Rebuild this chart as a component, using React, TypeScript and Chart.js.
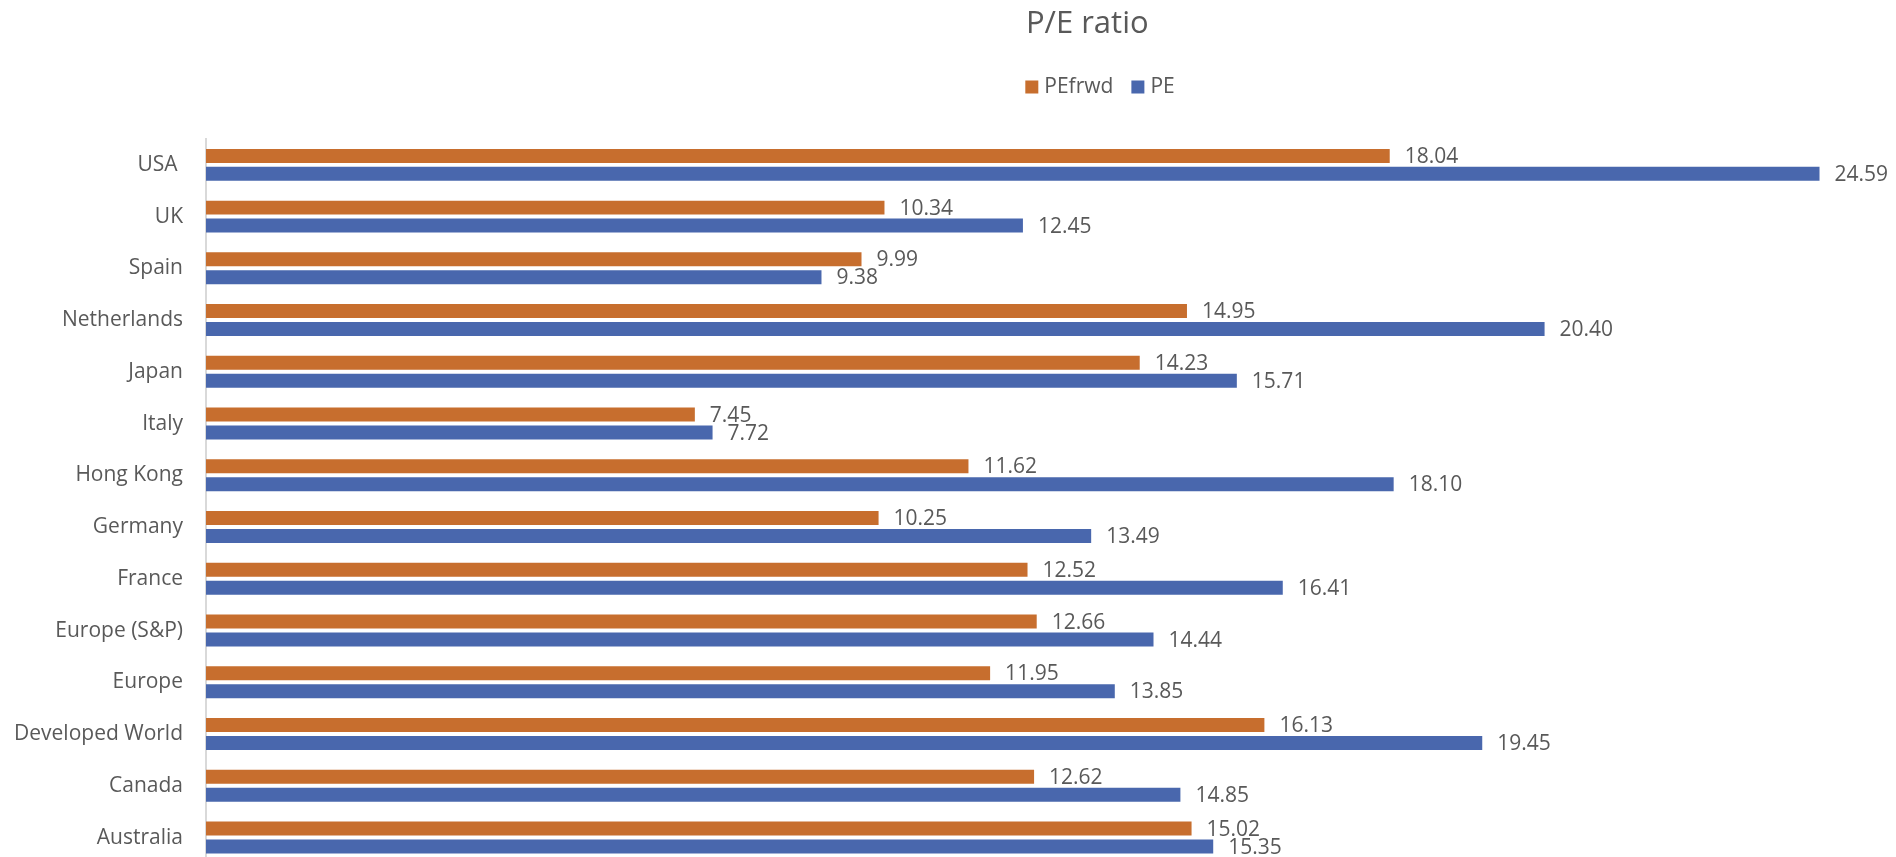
import React, { useEffect, useRef } from "react";
import { Chart, registerables } from "chart.js";

Chart.register(...registerables);

// Markets, listed top to bottom
const markets = [
  "USA ",
  "UK",
  "Spain",
  "Netherlands",
  "Japan",
  "Italy",
  "Hong Kong",
  "Germany",
  "France",
  "Europe (S&P)",
  "Europe",
  "Developed World",
  "Canada",
  "Australia",
];

// Forward price/earnings
const peForward = [18.04, 10.34, 9.99, 14.95, 14.23, 7.45, 11.62, 10.25, 12.52, 12.66, 11.95, 16.13, 12.62, 15.02];

// Trailing price/earnings
const peTrailing = [24.59, 12.45, 9.38, 20.4, 15.71, 7.72, 18.1, 13.49, 16.41, 14.44, 13.85, 19.45, 14.85, 15.35];

const seriesNames = ["PEfrwd", "PE"];
const seriesColors = ["#C76E2E", "#4967AD"];

const FONT = "'Open Sans', 'Noto Sans', sans-serif";
const TEXT = "#595959";
const CANVAS_W = 2200;
const CANVAS_H = 899;
const LEGEND_Y = 87;

// Value printed just past the end of each bar
const valueLabels = {
  id: "valueLabels",
  afterDatasetsDraw(chart: any) {
    const { ctx } = chart;
    ctx.save();
    ctx.font = `21px ${FONT}`;
    ctx.fillStyle = TEXT;
    ctx.textAlign = "left";
    ctx.textBaseline = "middle";
    chart.data.datasets.forEach((ds: any, di: number) => {
      const meta = chart.getDatasetMeta(di);
      meta.data.forEach((bar: any, i: number) => {
        ctx.fillText(Number(ds.data[i]).toFixed(2), bar.x + 15, bar.y + 1);
      });
    });
    ctx.restore();
  },
};

// Centered legend row: colored squares followed by series names
const squareLegend = {
  id: "squareLegend",
  afterDraw(chart: any) {
    const { ctx } = chart;
    const box = 13;
    const gap = 6;
    const itemGap = 18;
    ctx.save();
    ctx.font = `21px ${FONT}`;
    ctx.textBaseline = "middle";
    ctx.textAlign = "left";
    const widths = seriesNames.map((n) => ctx.measureText(n).width);
    const total =
      widths.reduce((s, w) => s + box + gap + w, 0) + itemGap * (seriesNames.length - 1);
    let x = chart.width / 2 - total / 2;
    seriesNames.forEach((name, i) => {
      ctx.fillStyle = seriesColors[i];
      ctx.fillRect(x, LEGEND_Y - box / 2, box, box);
      x += box + gap;
      ctx.fillStyle = TEXT;
      ctx.fillText(name, x, LEGEND_Y);
      x += widths[i] + itemGap;
    });
    ctx.restore();
  },
};

export default function App() {
  const canvasRef = useRef<HTMLCanvasElement | null>(null);

  useEffect(() => {
    document.body.style.margin = "0";
    document.body.style.overflow = "hidden";
    const canvas = canvasRef.current;
    if (!canvas) return;

    const chart = new Chart(canvas, {
      type: "bar",
      data: {
        labels: markets,
        datasets: [
          {
            label: seriesNames[0],
            data: peForward,
            backgroundColor: seriesColors[0],
            categoryPercentage: 0.695,
            barPercentage: 0.778,
          },
          {
            label: seriesNames[1],
            data: peTrailing,
            backgroundColor: seriesColors[1],
            categoryPercentage: 0.695,
            barPercentage: 0.778,
          },
        ],
      },
      options: {
        indexAxis: "y",
        responsive: true,
        maintainAspectRatio: false,
        animation: false,
        devicePixelRatio: 1,
        layout: { padding: { left: 0, right: 25.5, top: 0, bottom: 0 } },
        scales: {
          x: {
            display: false,
            min: 0,
            max: 30,
          },
          y: {
            grid: { display: false, drawTicks: false },
            border: { display: true, color: "#D9D9D9", width: 2 },
            ticks: {
              color: TEXT,
              font: { family: FONT, size: 21 },
              padding: 23,
            },
            afterFit(scale: any) {
              scale.width = 206;
            },
          },
        },
        plugins: {
          legend: { display: false },
          tooltip: { enabled: false },
          title: {
            display: true,
            text: "P/E ratio",
            color: TEXT,
            font: { family: FONT, size: 31, weight: "normal" },
            padding: { top: 6, bottom: 95.8 },
          },
        },
      },
      plugins: [valueLabels, squareLegend],
    });

    return () => chart.destroy();
  }, []);

  return (
    <div style={{ width: 1896, height: 857, overflow: "hidden", position: "relative", background: "#fff" }}>
      <div style={{ position: "relative", width: CANVAS_W, height: CANVAS_H }}>
        <canvas ref={canvasRef} />
      </div>
    </div>
  );
}
